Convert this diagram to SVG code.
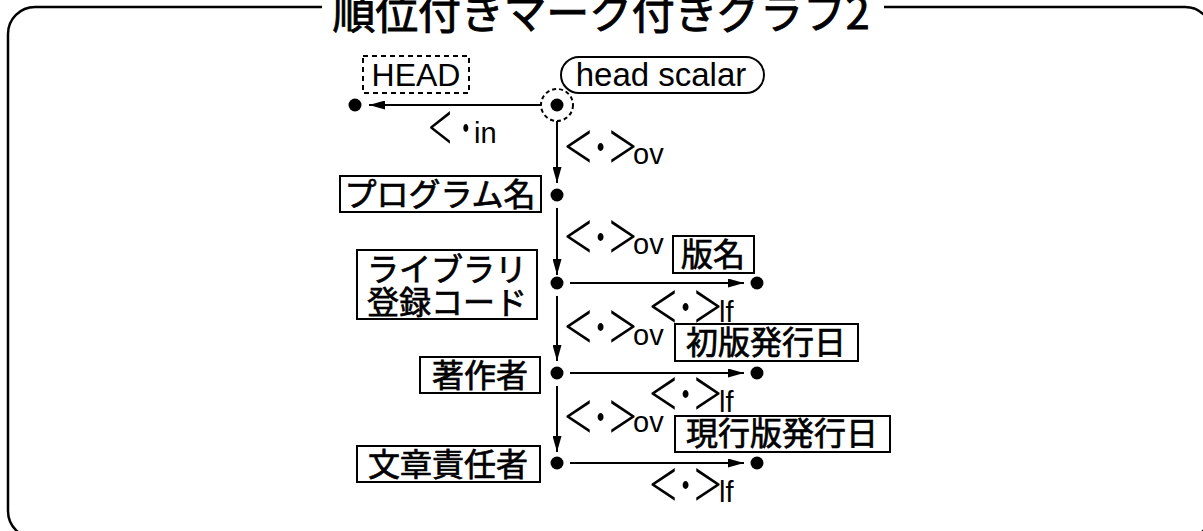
<svg xmlns="http://www.w3.org/2000/svg" width="1203" height="531" viewBox="0 0 1203 531">
<defs>
<marker id="ah" viewBox="0 0 16 9" refX="16" refY="4.5" markerWidth="16" markerHeight="9" markerUnits="userSpaceOnUse" orient="auto">
<path d="M0,0 L16,4.5 L0,9 Z" fill="#000"/>
</marker>
</defs>
<style>
.frame{fill:none;stroke:#000;stroke-width:2.5}
.box{fill:#fff;stroke:#000;stroke-width:2}
.dbox{fill:none;stroke:#000;stroke-width:2;stroke-dasharray:5 4}
.jp{font-family:"Noto Sans CJK JP","Noto Sans CJK SC",sans-serif;font-size:32px;fill:#000;stroke:#000;stroke-width:0.7}
.en{font-family:"Liberation Sans",Arial,sans-serif;fill:#000}
.br{font-family:"Liberation Serif","Times New Roman",serif;font-size:50px;fill:#000}
.sub{font-family:"Liberation Sans",Arial,sans-serif;font-size:29px;fill:#000}
.edge{fill:none;stroke:#000;stroke-width:2;marker-end:url(#ah)}
.dot{fill:#000}
.title{font-family:"Noto Sans CJK JP","Noto Sans CJK SC",sans-serif;font-size:43px;fill:#000;stroke:#000;stroke-width:0.9}
</style>
<rect width="1203" height="531" fill="#fff"/>
<path class="frame" d="M322 7 H35 A27 27 0 0 0 8 34 V511 A27 27 0 0 0 35 538 H1185 A27 27 0 0 0 1212 511 V34 A27 27 0 0 0 1185 7 H884"/>
<text class="title" x="601" y="29" text-anchor="middle" textLength="537" lengthAdjust="spacing">順位付きマーク付きグラフ2</text>

<g id="connectors">
<line class="edge" x1="541" y1="105" x2="369" y2="105"/>
<line class="edge" x1="557" y1="121" x2="557" y2="183"/>
<line class="edge" x1="557" y1="208" x2="557" y2="275"/>
<line class="edge" x1="557" y1="296" x2="557" y2="361"/>
<line class="edge" x1="557" y1="386" x2="557" y2="452"/>
<line class="edge" x1="570" y1="283" x2="744" y2="283"/>
<line class="edge" x1="570" y1="373" x2="744" y2="373"/>
<line class="edge" x1="570" y1="463" x2="744" y2="463"/>
<g id="lbl-in"><text class="br" transform="translate(428,150) scale(0.85,1.35)">&lt;<tspan dx="8">·</tspan></text><text class="sub" x="474" y="143">in</text></g>
<g id="lbl-ov1"><text class="br" transform="translate(564,169) scale(1,1.35)">&lt;·&gt;</text><text class="sub" x="633" y="164">ov</text></g>
<g id="lbl-ov2"><text class="br" transform="translate(564,259) scale(1,1.35)">&lt;·&gt;</text><text class="sub" x="633" y="254">ov</text></g>
<g id="lbl-ov3"><text class="br" transform="translate(564,349) scale(1,1.35)">&lt;·&gt;</text><text class="sub" x="633" y="345">ov</text></g>
<g id="lbl-ov4"><text class="br" transform="translate(564,439) scale(1,1.35)">&lt;·&gt;</text><text class="sub" x="633" y="432">ov</text></g>
<g id="lbl-lf1"><text class="br" transform="translate(649,329) scale(1,1.35)">&lt;·&gt;</text><text class="sub" x="719" y="322">lf</text></g>
<g id="lbl-lf2"><text class="br" transform="translate(649,416) scale(1,1.35)">&lt;·&gt;</text><text class="sub" x="719" y="412">lf</text></g>
<g id="lbl-lf3"><text class="br" transform="translate(649,507) scale(1,1.35)">&lt;·&gt;</text><text class="sub" x="719" y="502">lf</text></g>
</g>

<g id="head-label"><rect class="dbox" x="363" y="56" width="106" height="37"/><text class="en" x="416" y="86" font-size="32" text-anchor="middle">HEAD</text></g>
<g id="head-scalar"><rect class="box" x="561" y="57" width="203" height="36" rx="18"/><text class="en" x="661" y="86" font-size="33" text-anchor="middle">head scalar</text></g>
<g id="head-node"><circle cx="557" cy="105" r="16" fill="none" stroke="#000" stroke-width="2" stroke-dasharray="4 3"/><circle class="dot" cx="557" cy="105" r="6.5"/></g>
<g id="head-target"><circle class="dot" cx="355" cy="105" r="6.5"/></g>

<g id="n-program"><rect class="box" x="340" y="176" width="201" height="36"/><text class="jp" x="440" y="206" text-anchor="middle">プログラム名</text><circle class="dot" cx="557" cy="195" r="6.5"/></g>
<g id="n-library"><rect class="box" x="357" y="250" width="180" height="69"/><text class="jp" x="447" y="281" text-anchor="middle">ライブラリ</text><text class="jp" x="447" y="314" text-anchor="middle">登録コード</text><circle class="dot" cx="557" cy="283" r="6.5"/></g>
<g id="n-author"><rect class="box" x="420" y="357" width="120" height="36"/><text class="jp" x="480" y="387" text-anchor="middle">著作者</text><circle class="dot" cx="557" cy="373" r="6.5"/></g>
<g id="n-resp"><rect class="box" x="357" y="446" width="183" height="36"/><text class="jp" x="448" y="476" text-anchor="middle">文章責任者</text><circle class="dot" cx="557" cy="463" r="6.5"/></g>

<g id="n-edition"><rect class="box" x="673" y="236" width="81" height="37"/><text class="jp" x="713" y="266" text-anchor="middle">版名</text><circle class="dot" cx="757" cy="283" r="6.5"/></g>
<g id="n-first"><rect class="box" x="675" y="324" width="183" height="37"/><text class="jp" x="766" y="354" text-anchor="middle">初版発行日</text><circle class="dot" cx="757" cy="373" r="6.5"/></g>
<g id="n-current"><rect class="box" x="675" y="416" width="215" height="36"/><text class="jp" x="782" y="445" text-anchor="middle">現行版発行日</text><circle class="dot" cx="757" cy="463" r="6.5"/></g>
</svg>
